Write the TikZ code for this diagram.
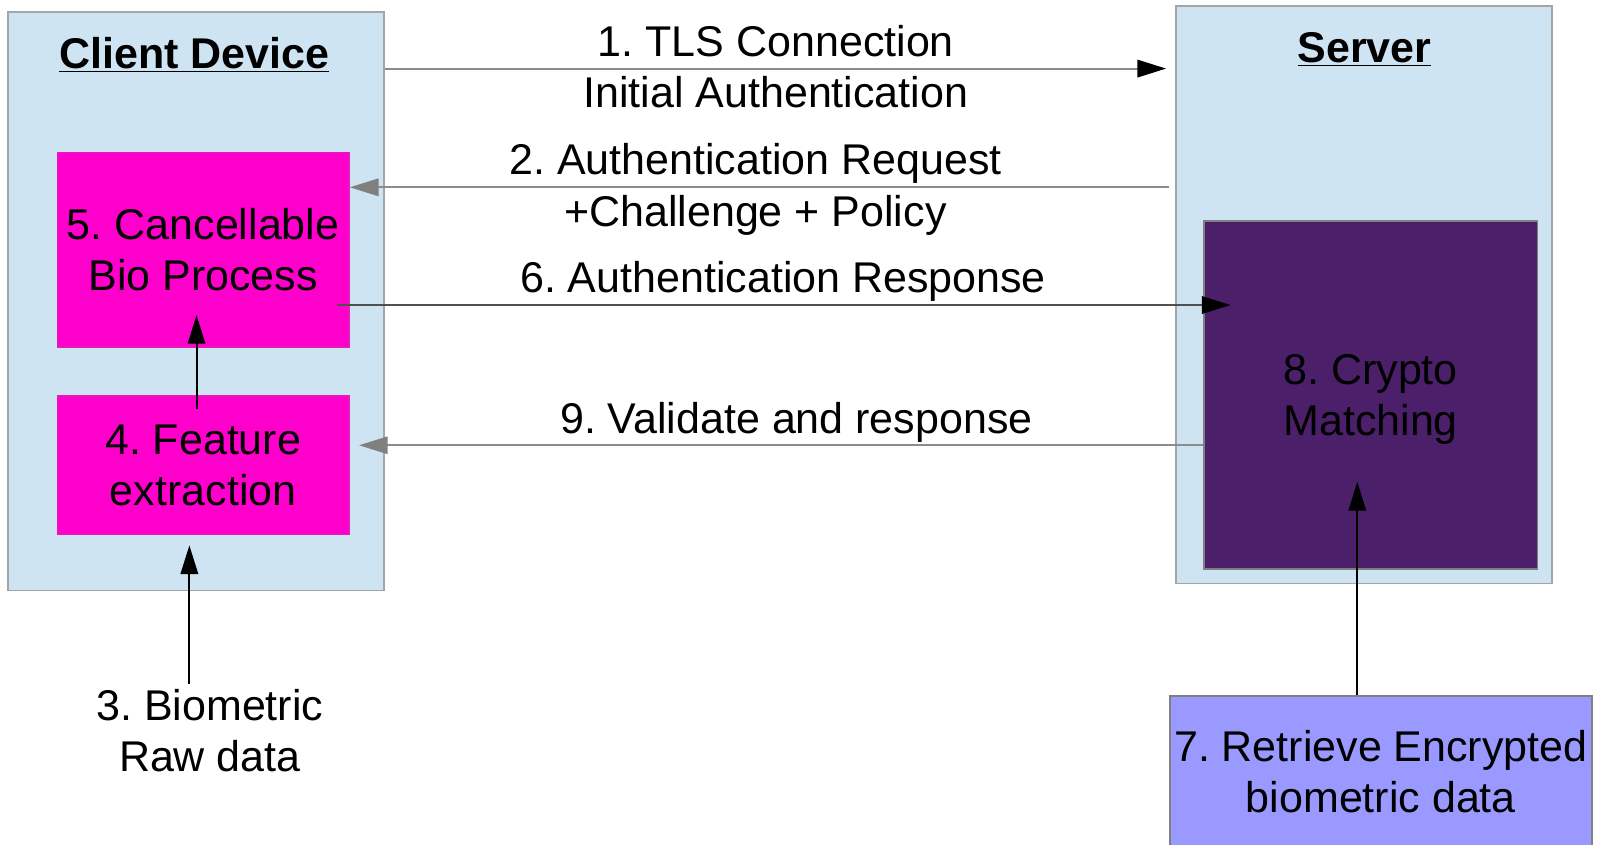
\documentclass[tikz,border=0pt]{standalone}
\usepackage{fontspec}
\setmainfont{Liberation Sans}
\usetikzlibrary{arrows.meta,calc}
\definecolor{lblue}{RGB}{207,228,242}
\definecolor{bgray}{RGB}{165,165,165}
\definecolor{mag}{RGB}{255,0,204}
\definecolor{purp}{RGB}{75,31,106}
\definecolor{viol}{RGB}{153,153,255}
\definecolor{lgray}{RGB}{140,140,140}
\definecolor{tipgray}{RGB}{128,128,128}
\definecolor{dgray}{RGB}{80,80,80}
\frenchspacing
\begin{document}
\begin{tikzpicture}[x=0.5pt,y=-0.5pt,
  every node/.style={font=\fontsize{21}{25}\selectfont},
  box/.style={draw=bgray, line width=0.8pt, inner sep=0pt, align=center, rectangle},
  lbl/.style={align=center, inner sep=0pt},
  ttl/.style={font=\fontsize{21}{25}\selectfont\bfseries, anchor=base, inner sep=0pt},
  blkarrow/.style={line width=1pt, -{Triangle[length=14pt,width=8.5pt,color=black]}},
  grayarrow/.style={line width=1pt, lgray, -{Triangle[length=14pt,width=8.5pt,color=tipgray]}}
]
\useasboundingbox (0,0) rectangle (1568,825);

% containers
\node[box, fill=lblue, minimum width=183.5pt, minimum height=282.5pt] (client) at (191.5,294.5) {};
\node[box, fill=lblue, minimum width=183.5pt, minimum height=282pt] (server) at (1332.5,288) {};
\node[ttl] (clientt) at (190,67) {\underline{Client Device}};
\node[ttl] (servert) at (1333,61) {\underline{Server}};

% inner boxes
\node[box, draw=mag!80!gray, fill=mag, minimum width=142.5pt, minimum height=95pt] (cbp) at (198.5,244) {5. Cancellable\\Bio Process};
\node[box, draw=mag!80!gray, fill=mag, minimum width=142.5pt, minimum height=67.5pt] (fe) at (198.5,454.5) {4. Feature\\extraction};
\node[box, draw=gray, fill=purp, minimum width=163pt, minimum height=170pt] (crypto) at (1339,386) {8. Crypto\\\smash{Matching}};
\node[box, draw=gray, fill=viol, minimum width=206pt, minimum height=74pt] (retr) at (1349,754) {7. Retrieve Encrypted\\biometric data};
\node[lbl] (raw) at (205,714) {3. Biometric\\Raw data};

% arrow labels
\node[lbl] (l1) at (758,65) {1. TLS Connection\\Initial Authentication};
\node[lbl] (l2) at (738,185) {2. Authentication Request\\+Challenge + Policy};
\node[lbl] (l6) at (765,275) {6. Authentication Response};
\node[lbl] (l9) at (778,413) {9. Validate and response};

% endpoints
\coordinate (a1s) at (client.east |- 0,67);
\coordinate (a1e) at ($(server.west |- 0,67)+(-9,0)$);
\coordinate (a2s) at ($(server.west |- 0,183)+(-6,0)$);
\coordinate (a2e) at (cbp.east |- 0,183);
\coordinate (a6s) at ($(cbp.east |- 0,298)+(-13,0)$);
\coordinate (a6e) at ($(crypto.west |- 0,298)+(27,0)$);
\coordinate (a9s) at (crypto.west |- 0,435);
\coordinate (a9e) at ($(fe.east |- 0,435)+(9,0)$);

\draw[line width=1pt, draw=lgray, -{Triangle[length=14pt,width=8.5pt,color=black]}] (a1s) -- (a1e);
\draw[grayarrow] (a2s) -- (a2e);
\draw[line width=1pt, dgray, -{Triangle[length=14pt,width=8.5pt,color=black]}] (a6s) -- (a6e);
\draw[grayarrow] (a9s) -- (a9e);

\draw[blkarrow] ($(fe.north)+(-6.5,13)$) -- ($(cbp.south)+(-6.5,-32)$);
\draw[blkarrow] ($(raw.north)+(-20,-5)$) -- ($(fe.south)+(-13.5,10)$);
\draw[blkarrow] (retr.north -| 1326,0) -- ($(crypto.south)+(-13,-86)$);
\end{tikzpicture}
\end{document}
